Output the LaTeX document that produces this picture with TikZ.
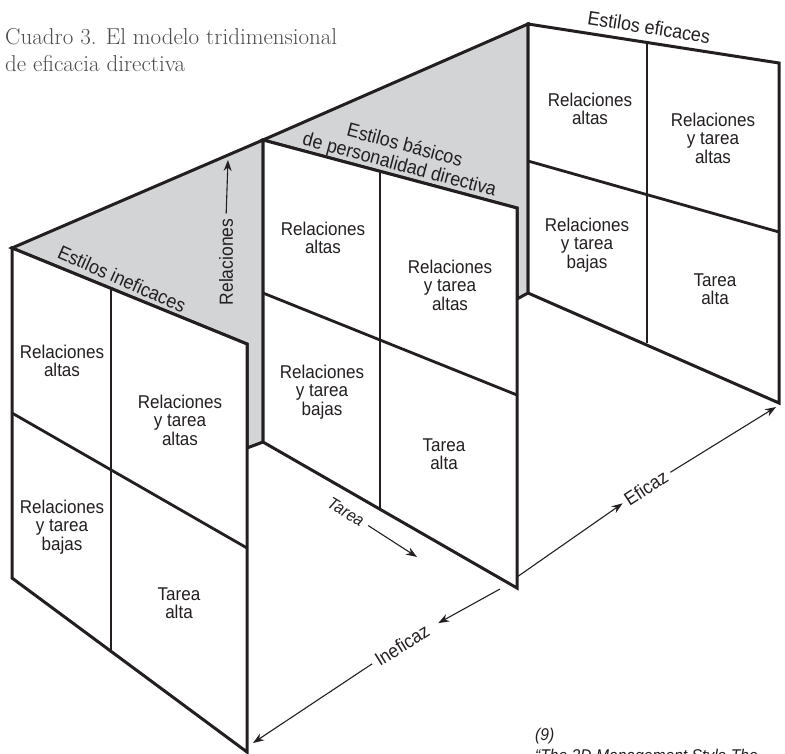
\documentclass[tikz,border=0pt]{standalone}
\usepackage{fontspec}
\setsansfont{Liberation Sans}[FakeStretch=0.92]
\usetikzlibrary{arrows.meta}
\definecolor{ink}{HTML}{231F20}
\definecolor{roofgray}{HTML}{D3D4D6}
\definecolor{titlegray}{HTML}{4D4D4F}
\tikzset{
  roof/.style={draw=ink,line width=3pt,fill=roofgray},
  wall/.style={draw=ink,line width=3pt,fill=white},
  divider/.style={draw=ink,line width=2.8pt},
  cell/.style={font=\sffamily\fontsize{18.5}{18.5}\selectfont,align=center,text=ink,inner sep=0pt},
  walltitle/.style={font=\sffamily\fontsize{19.5}{20}\selectfont,align=center,text=ink,inner sep=0pt},
  axislabel/.style={font=\sffamily\fontsize{19}{20}\selectfont,text=ink,inner sep=0pt},
  axis/.style={-{Stealth[length=11pt,width=8pt]},draw=ink,line width=1.1pt},
  caption/.style={font=\fontsize{23}{27}\selectfont,align=left,text=titlegray,inner sep=0pt,anchor=north west},
  source/.style={font=\sffamily\itshape\fontsize{17}{21}\selectfont,align=left,text=ink,inner sep=0pt,anchor=base west}
}
\begin{document}
\begin{tikzpicture}[x=1pt,y=-1pt]
\path[use as bounding box,fill=white] (0,0) rectangle (785,753);

\node[caption] (title) at (5,28) {Cuadro 3. El modelo tridimensional\\de eficacia directiva};

% shaded top surfaces
\draw[roof] (12,248) -- (263,140) -- (263,442) -- (247,448) -- (247,344) -- cycle;
\draw[roof] (263,140) -- (528,24) -- (528,293) -- (517,299) -- (517,208) -- cycle;

% the three walls
\draw[wall] (12,248) -- (247,344) -- (247,752) -- (12,578) -- cycle;
\draw[divider] (111,288) -- (111,652);
\draw[divider] (12,413) -- (247,548);

\draw[wall] (263,140) -- (517,208) -- (517,588) -- (263,442) -- cycle;
\draw[divider] (380,172) -- (380,510);
\draw[divider] (263,293) -- (517,395);

\draw[wall] (528,24) -- (779,63) -- (779,403) -- (528,293) -- cycle;
\draw[divider] (647,44) -- (647,343);
\draw[divider] (528,161) -- (779,232);

\node[walltitle,rotate=-24] (ineffTitle) at (122,279) {Estilos ineficaces};
\node[walltitle,rotate=-15] (basicTitle) at (402,156) {Estilos básicos\\de personalidad directiva};
\node[walltitle,rotate=-9] (effTitle) at (649,27) {Estilos eficaces};

\node[cell] (ineffRel) at (62,361) {Relaciones\\altas};
\node[cell] (ineffBoth) at (180,420) {Relaciones\\y tarea\\altas};
\node[cell] (ineffLow) at (62,527) {Relaciones\\y tarea\\bajas};
\node[cell] (ineffTask) at (179,603) {Tarea\\alta};

\node[cell] (basicRel) at (323,238) {Relaciones\\altas};
\node[cell] (basicBoth) at (450,285) {Relaciones\\y tarea\\altas};
\node[cell] (basicLow) at (322,392) {Relaciones\\y tarea\\bajas};
\node[cell] (basicTask) at (444,454) {Tarea\\alta};

\node[cell] (effRel) at (590,109) {Relaciones\\altas};
\node[cell] (effBoth) at (713,138) {Relaciones\\y tarea\\altas};
\node[cell] (effLow) at (587,245) {Relaciones\\y tarea\\bajas};
\node[cell] (effTask) at (715,289) {Tarea\\alta};

% axes
\node[axislabel,rotate=90] (relLabel) at (226,262) {Relaciones};
\coordinate (relTip) at (228,160);
\draw[axis,shorten <=5pt] (relLabel.east) -- (relTip);

\node[axislabel,font=\sffamily\itshape\fontsize{17}{18}\selectfont,rotate=-31] (taskLabel) at (346,512) {Tarea};
\coordinate (taskTip) at (417,557);
\draw[axis,shorten <=6pt] (taskLabel.east) -- (taskTip);

\coordinate (effStart) at (517,577);
\coordinate (effTip) at (776,407);
\node[axislabel,rotate=33] (effLabel) at (646,488) {Eficaz};
\draw[axis,shorten >=4pt] (effStart) -- (effLabel.west);
\draw[axis,shorten <=5pt] (effLabel.east) -- (effTip);

\coordinate (ineffStart) at (500,589);
\coordinate (ineffTip) at (253,743);
\node[axislabel,rotate=32] (ineffLabel) at (402,645) {Ineficaz};
\draw[axis,shorten >=12pt] (ineffStart) -- (ineffLabel.east);
\draw[axis,shorten <=5pt] (ineffLabel.west) -- (ineffTip);

\node[source] (ref) at (535,761) {(9)\\“The 3D Management Style The};
\end{tikzpicture}
\end{document}
